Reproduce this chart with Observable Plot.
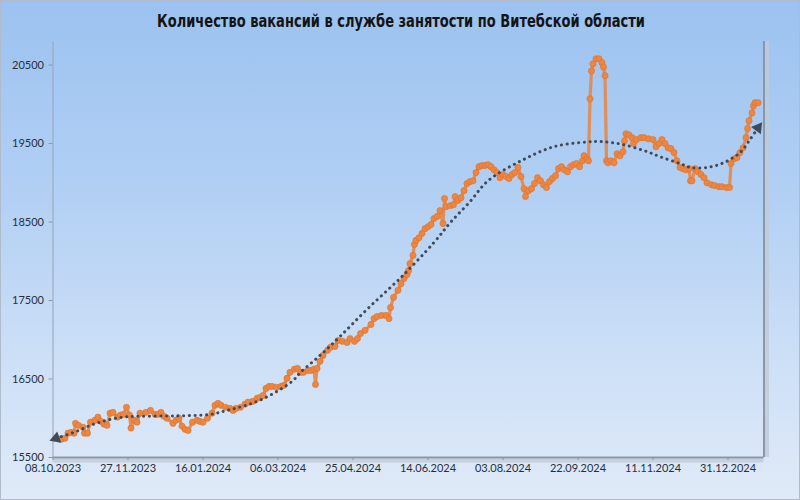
<!DOCTYPE html>
<html><head><meta charset="utf-8">
<script src="https://cdn.jsdelivr.net/npm/d3@7"></script>
<script src="https://cdn.jsdelivr.net/npm/@observablehq/plot@0.6"></script>
<style>
html,body{margin:0;padding:0;background:#fff;}
#chart{position:relative;width:798px;height:498px;border:1px solid #aebccc;background:linear-gradient(180deg,#9bc2f0 0%,#b3d0f4 40%,#cfe1f7 75%,#e0eaf7 100%);overflow:hidden;}
#title{display:block;}
#plot svg{display:block;}
</style></head><body>
<div id="chart">
<svg id="title" width="798" height="38"><text x="400" y="26" text-anchor="middle" textLength="488" lengthAdjust="spacingAndGlyphs" font-family="'DejaVu Sans Condensed','DejaVu Sans',sans-serif" font-weight="bold" font-size="17" fill="#141414">Количество вакансий в службе занятости по Витебской области</text></svg>
<div id="plot"></div>
</div>
<script>
const dates = [
"2023-10-12","2023-10-14","2023-10-16","2023-10-18","2023-10-20","2023-10-22","2023-10-23","2023-10-25","2023-10-28","2023-10-29","2023-10-31",
"2023-11-02","2023-11-05","2023-11-07","2023-11-09","2023-11-11","2023-11-13","2023-11-15","2023-11-17","2023-11-20","2023-11-22","2023-11-24","2023-11-26","2023-11-28","2023-11-29",
"2023-12-01","2023-12-03","2023-12-05","2023-12-09","2023-12-12","2023-12-15","2023-12-17","2023-12-19","2023-12-21","2023-12-23","2023-12-27","2023-12-29","2023-12-31",
"2024-01-02","2024-01-04","2024-01-06","2024-01-09","2024-01-12","2024-01-14","2024-01-16","2024-01-19","2024-01-22","2024-01-24","2024-01-26","2024-01-28","2024-01-31",
"2024-02-03","2024-02-05","2024-02-07","2024-02-10","2024-02-13","2024-02-15","2024-02-18","2024-02-21","2024-02-23","2024-02-25","2024-02-27","2024-02-29",
"2024-03-02","2024-03-05","2024-03-08","2024-03-10","2024-03-12","2024-03-14","2024-03-17","2024-03-19","2024-03-21","2024-03-23","2024-03-26","2024-03-28","2024-03-30","2024-03-31",
"2024-04-01","2024-04-03","2024-04-05","2024-04-08","2024-04-10","2024-04-13","2024-04-15","2024-04-18","2024-04-21","2024-04-23","2024-04-26","2024-04-28","2024-04-30",
"2024-05-03","2024-05-07","2024-05-09","2024-05-11","2024-05-14","2024-05-17","2024-05-19","2024-05-20","2024-05-22","2024-05-25","2024-05-27","2024-05-29","2024-05-31",
"2024-06-01","2024-06-02","2024-06-04","2024-06-05","2024-06-06","2024-06-08","2024-06-10","2024-06-12","2024-06-14","2024-06-16","2024-06-18","2024-06-20","2024-06-22","2024-06-24","2024-06-25","2024-06-26","2024-06-29",
"2024-07-01","2024-07-02","2024-07-04","2024-07-06","2024-07-08","2024-07-10","2024-07-12","2024-07-14","2024-07-16","2024-07-18","2024-07-20","2024-07-22","2024-07-24","2024-07-26","2024-07-28","2024-07-30",
"2024-08-01","2024-08-03","2024-08-05","2024-08-07","2024-08-09","2024-08-11","2024-08-13","2024-08-15","2024-08-17","2024-08-18","2024-08-20","2024-08-22","2024-08-24","2024-08-26","2024-08-28","2024-08-30",
"2024-09-01","2024-09-03","2024-09-05","2024-09-07","2024-09-09","2024-09-11","2024-09-13","2024-09-15","2024-09-17","2024-09-19","2024-09-21","2024-09-23","2024-09-25","2024-09-26","2024-09-28","2024-09-29","2024-09-30",
"2024-10-01","2024-10-02","2024-10-04","2024-10-06","2024-10-08","2024-10-09","2024-10-10","2024-10-11","2024-10-12","2024-10-14","2024-10-16","2024-10-18","2024-10-20","2024-10-22","2024-10-23","2024-10-24","2024-10-26","2024-10-28","2024-10-29","2024-10-31",
"2024-11-03","2024-11-05","2024-11-08","2024-11-11","2024-11-13","2024-11-15","2024-11-17","2024-11-19","2024-11-21","2024-11-23","2024-11-25","2024-11-27","2024-11-29",
"2024-12-01","2024-12-03","2024-12-05","2024-12-06","2024-12-07","2024-12-09","2024-12-11","2024-12-13","2024-12-15","2024-12-17","2024-12-20","2024-12-22","2024-12-25","2024-12-27","2024-12-30",
"2025-01-01","2025-01-02","2025-01-04","2025-01-06","2025-01-08","2025-01-10","2025-01-12","2025-01-13","2025-01-14","2025-01-16","2025-01-17","2025-01-18","2025-01-20"
];
const vacancies = [
15735,15735,15745,15810,15820,15810,15935,15910,15885,15810,15810,
15950,15975,16015,15960,15925,15910,16065,16075,16015,16040,16050,16140,16040,15875,
15975,15950,16065,16075,16100,16050,16050,16075,16025,16000,15935,15975,16000,
15900,15860,15845,15950,15975,15960,15950,16000,16065,16165,16190,16165,16140,
16125,16100,16125,16140,16180,16205,16215,16255,16265,16290,16380,16405,
16405,16395,16405,16420,16510,16585,16625,16635,16585,16585,16610,16610,16625,16430,
16635,16725,16800,16865,16905,16915,16990,16980,16965,17015,16980,17015,17080,
17120,17195,17270,17295,17310,17310,17270,17410,17540,17630,17715,17780,17830,
17880,17970,18075,18215,18265,18300,18355,18415,18440,18470,18545,18570,18645,18480,18800,18695,18710,
18720,18825,18775,18810,18900,18990,19015,19025,19130,19205,19220,19220,19230,19205,19165,19130,
19065,19105,19080,19055,19105,19130,19195,19080,18925,18825,18900,18925,18990,19065,19025,18975,
18940,19015,19055,19090,19180,19205,19165,19140,19205,19230,19245,19205,19280,19345,19305,19280,20070,
20425,20515,20580,20580,20530,20475,20365,19280,19255,19280,19255,19370,19345,19395,19535,19625,19610,19575,19500,19550,
19575,19575,19560,19550,19460,19500,19550,19500,19445,19435,19385,19280,19195,
19180,19165,19180,19025,19025,19180,19140,19105,19065,19000,18975,18965,18950,18950,18940,
18940,19245,19305,19320,19385,19445,19575,19690,19790,19890,19980,20020,20020
];
const trendDates = ["2023-10-10","2023-10-22","2023-11-02","2023-11-13","2023-11-24","2023-12-05","2023-12-29","2024-01-21","2024-02-01","2024-02-12","2024-02-23","2024-03-06","2024-03-16","2024-03-21","2024-04-03","2024-04-17","2024-05-05","2024-05-27","2024-06-18","2024-06-29","2024-07-12","2024-07-24","2024-08-15","2024-09-06","2024-09-28","2024-10-07","2024-10-20","2024-11-05","2024-11-16","2024-11-29","2024-12-06","2024-12-17","2024-12-28","2025-01-08","2025-01-15","2025-01-20"];
const trendValues = [15745,15820,15910,15975,16015,16025,16030,16050,16100,16155,16230,16350,16480,16585,16800,17055,17400,17795,18240,18495,18760,19025,19280,19460,19520,19525,19495,19410,19330,19245,19195,19195,19255,19385,19560,19700];
const xTickDates = ["2023-10-08","2023-11-27","2024-01-16","2024-03-06","2024-04-25","2024-06-14","2024-08-03","2024-09-22","2024-11-11","2024-12-31"];
const yTicks = [15500,16500,17500,18500,19500,20500];
const xDomain = ["2023-10-08","2025-01-24"];
const yDomain = [15500,20800];

const parse = d3.utcParse("%Y-%m-%d");
const series = dates.map((d,i)=>({date: parse(d), value: vacancies[i]}));
const trend = trendDates.map((d,i)=>({date: parse(d), value: trendValues[i]}));
const xStart = parse(xDomain[0]), xEnd = parse(xDomain[1]);
const fmt = d3.utcFormat("%d.%m.%Y");
const axisColor = "#8b97a7";
const trendColor = "#414a58";

const plot = Plot.plot({
  width: 798, height: 460,
  marginTop: 2, marginBottom: 42, marginLeft: 51.5, marginRight: 35.5,
  style: {background: "transparent", fontFamily: "Lato, 'Open Sans', sans-serif", fontSize: "11px", color: "#25303d", overflow: "visible"},
  x: {type: "utc", domain: [xStart, xEnd]},
  y: {domain: yDomain},
  marks: [
    Plot.ruleX([xEnd], {stroke: "#bfcad8", strokeWidth: 4, dx: 3, strokeOpacity: 0.8}),
    Plot.ruleY([yDomain[0]], {stroke: "#bfcad8", strokeWidth: 4, dy: 3, strokeOpacity: 0.8}),
    Plot.ruleX([xEnd], {stroke: axisColor, strokeWidth: 2}),
    Plot.ruleY([yDomain[0]], {stroke: axisColor, strokeWidth: 2}),
    Plot.ruleX([xStart], {stroke: "#97a3b3", strokeWidth: 1}),
    Plot.axisY({ticks: yTicks, tickSize: 4, tickPadding: 5, tickFormat: d => String(d), stroke: axisColor, label: null}),
    Plot.axisX({ticks: xTickDates.map(parse), tickSize: 3, tickPadding: 4, tickFormat: fmt, stroke: axisColor, label: null}),
    Plot.line(series, {x: "date", y: "value", stroke: "#e3874a", strokeWidth: 3.2, strokeOpacity: 0.9}),
    Plot.dot(series, {x: "date", y: "value", r: 3.1, fill: "#ee8540", stroke: "#d8742f", strokeWidth: 0.6}),
    Plot.line(trend, {x: "date", y: "value", stroke: trendColor, strokeWidth: 3, strokeDasharray: "0.1 5.6", strokeLinecap: "round", curve: "catmull-rom"}),
    Plot.dot([trend[0], trend[trend.length-1]], {x: "date", y: "value", symbol: "triangle", r: 4.5, fill: trendColor, rotate: (d,i) => i === 0 ? -110 : 36})
  ]
});
document.getElementById("plot").appendChild(plot);
</script>
</body></html>
